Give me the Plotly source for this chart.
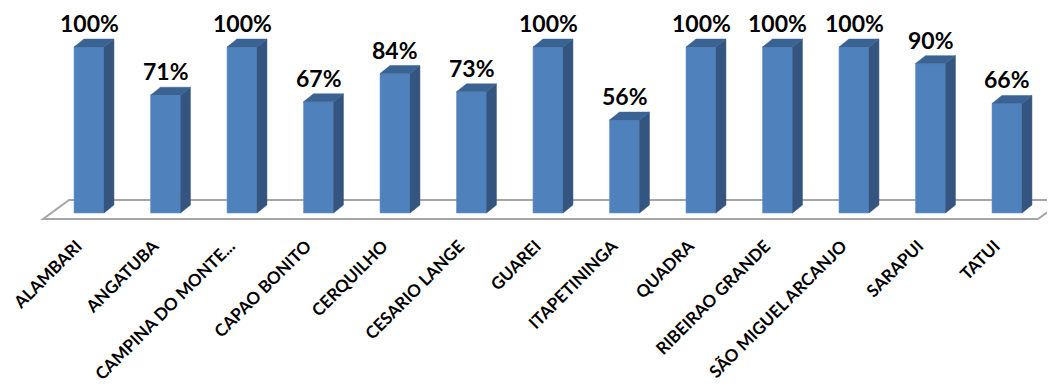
import plotly.graph_objects as go

# municipalities and their percentages
municipios = ["ALAMBARI", "ANGATUBA", "CAMPINA DO MONTE...", "CAPAO BONITO", "CERQUILHO",
              "CESARIO LANGE", "GUAREI", "ITAPETININGA", "QUADRA", "RIBEIRAO GRANDE",
              "SÃO MIGUEL ARCANJO", "SARAPUI", "TATUI"]
percentuais = [100, 71, 100, 67, 84, 73, 100, 56, 100, 100, 100, 90, 66]
rotulos = [f"{v}%" for v in percentuais]

FRONT = "#4F81BD"
SIDE = "#34557F"
TOP = "#3A6394"
FLOOR = "#A6A6A6"

HALF_W = 0.196   # half width of the bar front
DX = 0.13        # depth offset (x units)
DY = 4.8         # depth offset (y units)

n = len(municipios)
xs = list(range(n))

fig = go.Figure()
fig.add_trace(go.Bar(x=xs, y=percentuais, width=2 * HALF_W,
                     marker=dict(color=FRONT, line=dict(color="#6F96C8", width=0.6)),
                     hoverinfo="skip"))

shapes = []
# floor of the 3D chart (outline only)
fl, fr = -0.6, n - 1 + 0.405
yb, yf = 7.8, -3.6
floor_path = f"M {fl},{yf} L {fr},{yf} L {fr + 0.34},{yb} L {fl + 0.34},{yb} Z"
shapes.append(dict(type="path", path=floor_path, xref="x", yref="y", layer="below",
                   line=dict(color=FLOOR, width=2), fillcolor="white"))

# side and top faces of each bar
for i, v in zip(xs, percentuais):
    x0, x1 = i - HALF_W, i + HALF_W
    side = f"M {x1},0 L {x1 + DX},{DY} L {x1 + DX},{v + DY} L {x1},{v} Z"
    top = f"M {x0},{v} L {x1},{v} L {x1 + DX},{v + DY} L {x0 + DX},{v + DY} Z"
    shapes.append(dict(type="path", path=side, xref="x", yref="y", layer="above",
                       line=dict(color=SIDE, width=0.5), fillcolor=SIDE))
    shapes.append(dict(type="path", path=top, xref="x", yref="y", layer="above",
                       line=dict(color=TOP, width=0.5), fillcolor=TOP))

annotations = []
for i, v, t in zip(xs, percentuais, rotulos):
    annotations.append(dict(x=i, y=v, xref="x", yref="y", text=t, showarrow=False,
                            yanchor="bottom", yshift=8,
                            font=dict(family="Lato", size=23, color="black", weight="bold")))

# page body has an 8px margin, so the figure is laid out 8px up/left of the target
fig.update_layout(
    width=1055, height=390,
    margin=dict(l=0, r=0, t=0, b=165),
    plot_bgcolor="white", paper_bgcolor="white",
    showlegend=False,
    shapes=shapes,
    annotations=annotations,
    xaxis=dict(range=[-1.059, 12.732], tickmode="array", tickvals=xs, ticktext=municipios,
               tickangle=-45, showgrid=False, zeroline=False, showline=False, ticks="",
               ticklabelshift=-12, ticklabelstandoff=-1, ticklabeloverflow="allow",
               tickfont=dict(family="Lato", size=17, color="black", weight="bold")),
    yaxis=dict(range=[-12.05, 123.5], visible=False, showgrid=False, zeroline=False),
)

fig.write_html("out.html")
